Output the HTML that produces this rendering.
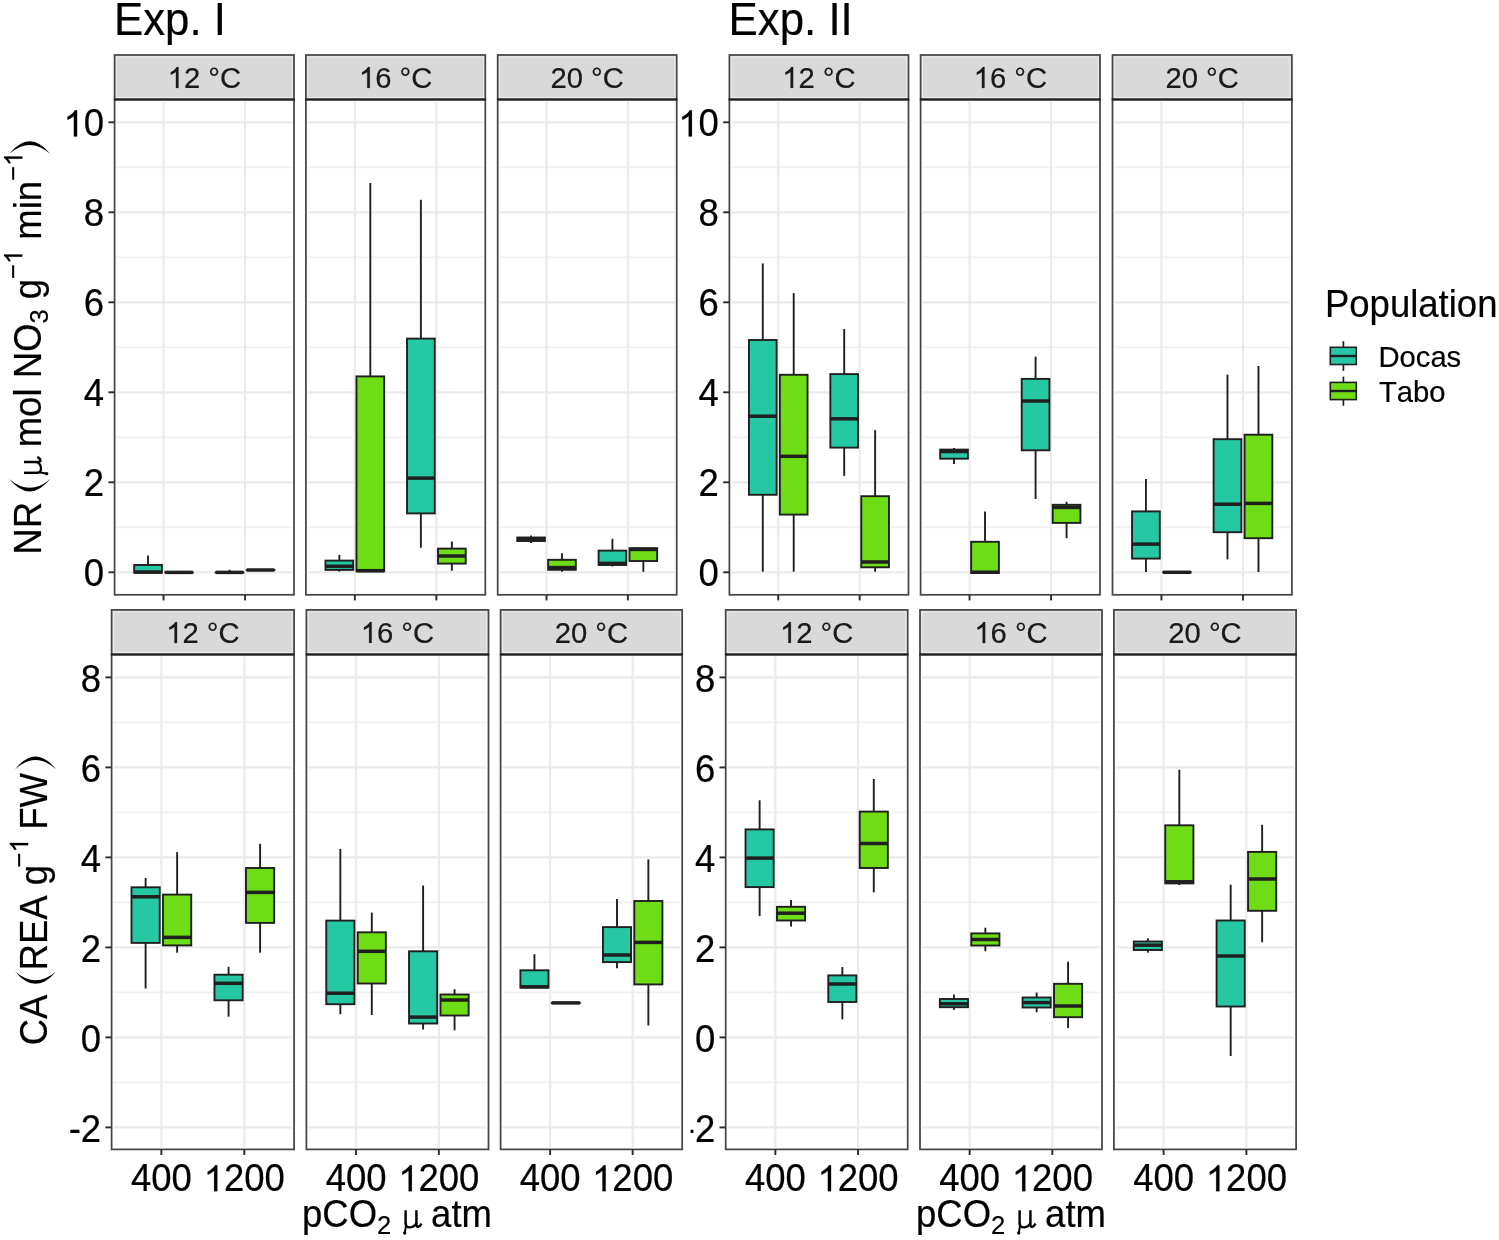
<!DOCTYPE html>
<html><head><meta charset="utf-8">
<style>
html,body{margin:0;padding:0;background:#fff;}
body{width:1499px;height:1240px;overflow:hidden;}
svg{display:block;will-change:transform;}
text{font-family:"Liberation Sans",sans-serif;font-kerning:none;stroke:currentColor;stroke-width:0.2px;}
.serif{font-family:"Liberation Serif",serif;}
</style></head>
<body>
<svg width="1499" height="1240" viewBox="0 0 1499 1240">
<rect width="1499" height="1240" fill="#fff"/>
<rect x="114.6" y="99.4" width="179.4" height="495.4" fill="#fff"/>
<line x1="116.6" x2="292" y1="527.3" y2="527.3" stroke="#F1F1F1" stroke-width="1.8"/>
<line x1="116.6" x2="292" y1="437.3" y2="437.3" stroke="#F1F1F1" stroke-width="1.8"/>
<line x1="116.6" x2="292" y1="347.3" y2="347.3" stroke="#F1F1F1" stroke-width="1.8"/>
<line x1="116.6" x2="292" y1="257.3" y2="257.3" stroke="#F1F1F1" stroke-width="1.8"/>
<line x1="116.6" x2="292" y1="167.3" y2="167.3" stroke="#F1F1F1" stroke-width="1.8"/>
<line x1="116.6" x2="292" y1="572.3" y2="572.3" stroke="#EBEBEB" stroke-width="2.2"/>
<line x1="116.6" x2="292" y1="482.3" y2="482.3" stroke="#EBEBEB" stroke-width="2.2"/>
<line x1="116.6" x2="292" y1="392.3" y2="392.3" stroke="#EBEBEB" stroke-width="2.2"/>
<line x1="116.6" x2="292" y1="302.3" y2="302.3" stroke="#EBEBEB" stroke-width="2.2"/>
<line x1="116.6" x2="292" y1="212.3" y2="212.3" stroke="#EBEBEB" stroke-width="2.2"/>
<line x1="116.6" x2="292" y1="122.3" y2="122.3" stroke="#EBEBEB" stroke-width="2.2"/>
<line x1="163.53" x2="163.53" y1="101.4" y2="592.8" stroke="#EBEBEB" stroke-width="2.2"/>
<line x1="245.07" x2="245.07" y1="101.4" y2="592.8" stroke="#EBEBEB" stroke-width="2.2"/>
<line x1="148.03" x2="148.03" y1="555.5" y2="565" stroke="#1f1f1f" stroke-width="1.9"/>
<rect x="134.17" y="565" width="27.73" height="7.8" fill="#26C8A3" stroke="#1f1f1f" stroke-width="1.9"/>
<line x1="134.17" x2="161.9" y1="572" y2="572" stroke="#1f1f1f" stroke-width="3.5"/>
<rect x="165.16" y="572.4" width="27.73" height="0.01" fill="#6EDD16" stroke="#1f1f1f" stroke-width="1.9"/>
<line x1="165.16" x2="192.88" y1="572.4" y2="572.4" stroke="#1f1f1f" stroke-width="3.5"/>
<line x1="229.58" x2="229.58" y1="569.8" y2="572.4" stroke="#1f1f1f" stroke-width="1.9"/>
<rect x="215.72" y="572.4" width="27.73" height="0.01" fill="#26C8A3" stroke="#1f1f1f" stroke-width="1.9"/>
<line x1="215.72" x2="243.44" y1="572.4" y2="572.4" stroke="#1f1f1f" stroke-width="3.5"/>
<rect x="246.7" y="570" width="27.73" height="0.01" fill="#6EDD16" stroke="#1f1f1f" stroke-width="1.9"/>
<line x1="246.7" x2="274.43" y1="570" y2="570" stroke="#1f1f1f" stroke-width="3.5"/>
<rect x="114.6" y="99.4" width="179.4" height="495.4" fill="none" stroke="#464646" stroke-width="1.75"/>
<rect x="114.6" y="55" width="179.4" height="44.4" fill="#D9D9D9" stroke="#464646" stroke-width="1.75"/>
<rect x="116.5" y="56.9" width="175.6" height="40.6" fill="none" stroke="#ECECEC" stroke-width="1"/>
<line x1="114" x2="294.6" y1="99.4" y2="99.4" stroke="#1e1e1e" stroke-width="2"/>
<text transform="translate(204.3,88) scale(1,1.04)" font-size="29.2" text-anchor="middle" fill="#1a1a1a"> 2 °C</text><path d="M763 0L583 0L583 1147C540 1106 483 1064 413 1023C343 982 280 951 221 930L221 1104C321 1151 409 1208 483 1274C557 1340 610 1404 641 1466L763 1466Z" fill="#1a1a1a" stroke="#1a1a1a" stroke-width="0.2" vector-effect="non-scaling-stroke" transform="translate(167.62,88) scale(0.01426,-0.01426)"/>
<line x1="108.4" x2="114.6" y1="572.3" y2="572.3" stroke="#2a2a2a" stroke-width="1.9"/>
<text transform="translate(104.1,586.4) scale(1,1.04)" font-size="36.5" text-anchor="end" fill="#000">0</text>
<line x1="108.4" x2="114.6" y1="482.3" y2="482.3" stroke="#2a2a2a" stroke-width="1.9"/>
<text transform="translate(104.1,496.4) scale(1,1.04)" font-size="36.5" text-anchor="end" fill="#000">2</text>
<line x1="108.4" x2="114.6" y1="392.3" y2="392.3" stroke="#2a2a2a" stroke-width="1.9"/>
<text transform="translate(104.1,406.4) scale(1,1.04)" font-size="36.5" text-anchor="end" fill="#000">4</text>
<line x1="108.4" x2="114.6" y1="302.3" y2="302.3" stroke="#2a2a2a" stroke-width="1.9"/>
<text transform="translate(104.1,316.4) scale(1,1.04)" font-size="36.5" text-anchor="end" fill="#000">6</text>
<line x1="108.4" x2="114.6" y1="212.3" y2="212.3" stroke="#2a2a2a" stroke-width="1.9"/>
<text transform="translate(104.1,226.4) scale(1,1.04)" font-size="36.5" text-anchor="end" fill="#000">8</text>
<line x1="108.4" x2="114.6" y1="122.3" y2="122.3" stroke="#2a2a2a" stroke-width="1.9"/>
<text transform="translate(104.1,136.4) scale(1,1.04)" font-size="36.5" text-anchor="end" fill="#000"> 0</text><path d="M763 0L583 0L583 1147C540 1106 483 1064 413 1023C343 982 280 951 221 930L221 1104C321 1151 409 1208 483 1274C557 1340 610 1404 641 1466L763 1466Z" fill="#000" stroke="#000" stroke-width="0.2" vector-effect="non-scaling-stroke" transform="translate(63.5,136.4) scale(0.01782,-0.01782)"/>
<line x1="163.53" x2="163.53" y1="594.8" y2="600.4" stroke="#2a2a2a" stroke-width="1.9"/>
<line x1="245.07" x2="245.07" y1="594.8" y2="600.4" stroke="#2a2a2a" stroke-width="1.9"/>
<rect x="305.9" y="99.4" width="179.4" height="495.4" fill="#fff"/>
<line x1="307.9" x2="483.3" y1="527.3" y2="527.3" stroke="#F1F1F1" stroke-width="1.8"/>
<line x1="307.9" x2="483.3" y1="437.3" y2="437.3" stroke="#F1F1F1" stroke-width="1.8"/>
<line x1="307.9" x2="483.3" y1="347.3" y2="347.3" stroke="#F1F1F1" stroke-width="1.8"/>
<line x1="307.9" x2="483.3" y1="257.3" y2="257.3" stroke="#F1F1F1" stroke-width="1.8"/>
<line x1="307.9" x2="483.3" y1="167.3" y2="167.3" stroke="#F1F1F1" stroke-width="1.8"/>
<line x1="307.9" x2="483.3" y1="572.3" y2="572.3" stroke="#EBEBEB" stroke-width="2.2"/>
<line x1="307.9" x2="483.3" y1="482.3" y2="482.3" stroke="#EBEBEB" stroke-width="2.2"/>
<line x1="307.9" x2="483.3" y1="392.3" y2="392.3" stroke="#EBEBEB" stroke-width="2.2"/>
<line x1="307.9" x2="483.3" y1="302.3" y2="302.3" stroke="#EBEBEB" stroke-width="2.2"/>
<line x1="307.9" x2="483.3" y1="212.3" y2="212.3" stroke="#EBEBEB" stroke-width="2.2"/>
<line x1="307.9" x2="483.3" y1="122.3" y2="122.3" stroke="#EBEBEB" stroke-width="2.2"/>
<line x1="354.83" x2="354.83" y1="101.4" y2="592.8" stroke="#EBEBEB" stroke-width="2.2"/>
<line x1="436.37" x2="436.37" y1="101.4" y2="592.8" stroke="#EBEBEB" stroke-width="2.2"/>
<line x1="339.33" x2="339.33" y1="554.8" y2="560.6" stroke="#1f1f1f" stroke-width="1.9"/>
<line x1="339.33" x2="339.33" y1="569.9" y2="571.6" stroke="#1f1f1f" stroke-width="1.9"/>
<rect x="325.47" y="560.6" width="27.73" height="9.3" fill="#26C8A3" stroke="#1f1f1f" stroke-width="1.9"/>
<line x1="325.47" x2="353.2" y1="566.3" y2="566.3" stroke="#1f1f1f" stroke-width="3.5"/>
<line x1="370.32" x2="370.32" y1="183" y2="376.4" stroke="#1f1f1f" stroke-width="1.9"/>
<rect x="356.46" y="376.4" width="27.73" height="194.9" fill="#6EDD16" stroke="#1f1f1f" stroke-width="1.9"/>
<line x1="356.46" x2="384.18" y1="570.7" y2="570.7" stroke="#1f1f1f" stroke-width="3.5"/>
<line x1="420.88" x2="420.88" y1="199.8" y2="338.6" stroke="#1f1f1f" stroke-width="1.9"/>
<line x1="420.88" x2="420.88" y1="513.4" y2="547.7" stroke="#1f1f1f" stroke-width="1.9"/>
<rect x="407.02" y="338.6" width="27.73" height="174.8" fill="#26C8A3" stroke="#1f1f1f" stroke-width="1.9"/>
<line x1="407.02" x2="434.74" y1="478.1" y2="478.1" stroke="#1f1f1f" stroke-width="3.5"/>
<line x1="451.87" x2="451.87" y1="541.5" y2="548.6" stroke="#1f1f1f" stroke-width="1.9"/>
<line x1="451.87" x2="451.87" y1="563.6" y2="570.7" stroke="#1f1f1f" stroke-width="1.9"/>
<rect x="438" y="548.6" width="27.73" height="15" fill="#6EDD16" stroke="#1f1f1f" stroke-width="1.9"/>
<line x1="438" x2="465.73" y1="556" y2="556" stroke="#1f1f1f" stroke-width="3.5"/>
<rect x="305.9" y="99.4" width="179.4" height="495.4" fill="none" stroke="#464646" stroke-width="1.75"/>
<rect x="305.9" y="55" width="179.4" height="44.4" fill="#D9D9D9" stroke="#464646" stroke-width="1.75"/>
<rect x="307.8" y="56.9" width="175.6" height="40.6" fill="none" stroke="#ECECEC" stroke-width="1"/>
<line x1="305.3" x2="485.9" y1="99.4" y2="99.4" stroke="#1e1e1e" stroke-width="2"/>
<text transform="translate(395.6,88) scale(1,1.04)" font-size="29.2" text-anchor="middle" fill="#1a1a1a"> 6 °C</text><path d="M763 0L583 0L583 1147C540 1106 483 1064 413 1023C343 982 280 951 221 930L221 1104C321 1151 409 1208 483 1274C557 1340 610 1404 641 1466L763 1466Z" fill="#1a1a1a" stroke="#1a1a1a" stroke-width="0.2" vector-effect="non-scaling-stroke" transform="translate(358.92,88) scale(0.01426,-0.01426)"/>
<line x1="354.83" x2="354.83" y1="594.8" y2="600.4" stroke="#2a2a2a" stroke-width="1.9"/>
<line x1="436.37" x2="436.37" y1="594.8" y2="600.4" stroke="#2a2a2a" stroke-width="1.9"/>
<rect x="497.7" y="99.4" width="179" height="495.4" fill="#fff"/>
<line x1="499.7" x2="674.7" y1="527.3" y2="527.3" stroke="#F1F1F1" stroke-width="1.8"/>
<line x1="499.7" x2="674.7" y1="437.3" y2="437.3" stroke="#F1F1F1" stroke-width="1.8"/>
<line x1="499.7" x2="674.7" y1="347.3" y2="347.3" stroke="#F1F1F1" stroke-width="1.8"/>
<line x1="499.7" x2="674.7" y1="257.3" y2="257.3" stroke="#F1F1F1" stroke-width="1.8"/>
<line x1="499.7" x2="674.7" y1="167.3" y2="167.3" stroke="#F1F1F1" stroke-width="1.8"/>
<line x1="499.7" x2="674.7" y1="572.3" y2="572.3" stroke="#EBEBEB" stroke-width="2.2"/>
<line x1="499.7" x2="674.7" y1="482.3" y2="482.3" stroke="#EBEBEB" stroke-width="2.2"/>
<line x1="499.7" x2="674.7" y1="392.3" y2="392.3" stroke="#EBEBEB" stroke-width="2.2"/>
<line x1="499.7" x2="674.7" y1="302.3" y2="302.3" stroke="#EBEBEB" stroke-width="2.2"/>
<line x1="499.7" x2="674.7" y1="212.3" y2="212.3" stroke="#EBEBEB" stroke-width="2.2"/>
<line x1="499.7" x2="674.7" y1="122.3" y2="122.3" stroke="#EBEBEB" stroke-width="2.2"/>
<line x1="546.52" x2="546.52" y1="101.4" y2="592.8" stroke="#EBEBEB" stroke-width="2.2"/>
<line x1="627.88" x2="627.88" y1="101.4" y2="592.8" stroke="#EBEBEB" stroke-width="2.2"/>
<line x1="531.06" x2="531.06" y1="535.5" y2="537.5" stroke="#1f1f1f" stroke-width="1.9"/>
<line x1="531.06" x2="531.06" y1="541" y2="543" stroke="#1f1f1f" stroke-width="1.9"/>
<rect x="517.23" y="537.5" width="27.66" height="3.5" fill="#26C8A3" stroke="#1f1f1f" stroke-width="1.9"/>
<line x1="517.23" x2="544.89" y1="539.2" y2="539.2" stroke="#1f1f1f" stroke-width="3.5"/>
<line x1="561.98" x2="561.98" y1="553.2" y2="559.8" stroke="#1f1f1f" stroke-width="1.9"/>
<line x1="561.98" x2="561.98" y1="569.8" y2="571.8" stroke="#1f1f1f" stroke-width="1.9"/>
<rect x="548.15" y="559.8" width="27.66" height="10" fill="#6EDD16" stroke="#1f1f1f" stroke-width="1.9"/>
<line x1="548.15" x2="575.81" y1="567.6" y2="567.6" stroke="#1f1f1f" stroke-width="3.5"/>
<line x1="612.42" x2="612.42" y1="538.8" y2="550.6" stroke="#1f1f1f" stroke-width="1.9"/>
<line x1="612.42" x2="612.42" y1="565" y2="566.4" stroke="#1f1f1f" stroke-width="1.9"/>
<rect x="598.59" y="550.6" width="27.66" height="14.4" fill="#26C8A3" stroke="#1f1f1f" stroke-width="1.9"/>
<line x1="598.59" x2="626.25" y1="563.4" y2="563.4" stroke="#1f1f1f" stroke-width="3.5"/>
<line x1="643.34" x2="643.34" y1="561" y2="571.8" stroke="#1f1f1f" stroke-width="1.9"/>
<rect x="629.51" y="548.2" width="27.66" height="12.8" fill="#6EDD16" stroke="#1f1f1f" stroke-width="1.9"/>
<line x1="629.51" x2="657.17" y1="549.4" y2="549.4" stroke="#1f1f1f" stroke-width="3.5"/>
<rect x="497.7" y="99.4" width="179" height="495.4" fill="none" stroke="#464646" stroke-width="1.75"/>
<rect x="497.7" y="55" width="179" height="44.4" fill="#D9D9D9" stroke="#464646" stroke-width="1.75"/>
<rect x="499.6" y="56.9" width="175.2" height="40.6" fill="none" stroke="#ECECEC" stroke-width="1"/>
<line x1="497.1" x2="677.3" y1="99.4" y2="99.4" stroke="#1e1e1e" stroke-width="2"/>
<text transform="translate(587.2,88) scale(1,1.04)" font-size="29.2" text-anchor="middle" fill="#1a1a1a">20 °C</text>
<line x1="546.52" x2="546.52" y1="594.8" y2="600.4" stroke="#2a2a2a" stroke-width="1.9"/>
<line x1="627.88" x2="627.88" y1="594.8" y2="600.4" stroke="#2a2a2a" stroke-width="1.9"/>
<rect x="729.4" y="99.4" width="179.1" height="495.4" fill="#fff"/>
<line x1="731.4" x2="906.5" y1="527.3" y2="527.3" stroke="#F1F1F1" stroke-width="1.8"/>
<line x1="731.4" x2="906.5" y1="437.3" y2="437.3" stroke="#F1F1F1" stroke-width="1.8"/>
<line x1="731.4" x2="906.5" y1="347.3" y2="347.3" stroke="#F1F1F1" stroke-width="1.8"/>
<line x1="731.4" x2="906.5" y1="257.3" y2="257.3" stroke="#F1F1F1" stroke-width="1.8"/>
<line x1="731.4" x2="906.5" y1="167.3" y2="167.3" stroke="#F1F1F1" stroke-width="1.8"/>
<line x1="731.4" x2="906.5" y1="572.3" y2="572.3" stroke="#EBEBEB" stroke-width="2.2"/>
<line x1="731.4" x2="906.5" y1="482.3" y2="482.3" stroke="#EBEBEB" stroke-width="2.2"/>
<line x1="731.4" x2="906.5" y1="392.3" y2="392.3" stroke="#EBEBEB" stroke-width="2.2"/>
<line x1="731.4" x2="906.5" y1="302.3" y2="302.3" stroke="#EBEBEB" stroke-width="2.2"/>
<line x1="731.4" x2="906.5" y1="212.3" y2="212.3" stroke="#EBEBEB" stroke-width="2.2"/>
<line x1="731.4" x2="906.5" y1="122.3" y2="122.3" stroke="#EBEBEB" stroke-width="2.2"/>
<line x1="778.25" x2="778.25" y1="101.4" y2="592.8" stroke="#EBEBEB" stroke-width="2.2"/>
<line x1="859.65" x2="859.65" y1="101.4" y2="592.8" stroke="#EBEBEB" stroke-width="2.2"/>
<line x1="762.78" x2="762.78" y1="263.5" y2="340" stroke="#1f1f1f" stroke-width="1.9"/>
<line x1="762.78" x2="762.78" y1="494.8" y2="571.7" stroke="#1f1f1f" stroke-width="1.9"/>
<rect x="748.94" y="340" width="27.68" height="154.8" fill="#26C8A3" stroke="#1f1f1f" stroke-width="1.9"/>
<line x1="748.94" x2="776.62" y1="416.2" y2="416.2" stroke="#1f1f1f" stroke-width="3.5"/>
<line x1="793.71" x2="793.71" y1="293.1" y2="374.8" stroke="#1f1f1f" stroke-width="1.9"/>
<line x1="793.71" x2="793.71" y1="514.6" y2="571.7" stroke="#1f1f1f" stroke-width="1.9"/>
<rect x="779.87" y="374.8" width="27.68" height="139.8" fill="#6EDD16" stroke="#1f1f1f" stroke-width="1.9"/>
<line x1="779.87" x2="807.55" y1="456.3" y2="456.3" stroke="#1f1f1f" stroke-width="3.5"/>
<line x1="844.19" x2="844.19" y1="329.1" y2="374.1" stroke="#1f1f1f" stroke-width="1.9"/>
<line x1="844.19" x2="844.19" y1="447.6" y2="475.9" stroke="#1f1f1f" stroke-width="1.9"/>
<rect x="830.35" y="374.1" width="27.68" height="73.5" fill="#26C8A3" stroke="#1f1f1f" stroke-width="1.9"/>
<line x1="830.35" x2="858.03" y1="418.8" y2="418.8" stroke="#1f1f1f" stroke-width="3.5"/>
<line x1="875.12" x2="875.12" y1="430.2" y2="496.2" stroke="#1f1f1f" stroke-width="1.9"/>
<line x1="875.12" x2="875.12" y1="567.3" y2="571.7" stroke="#1f1f1f" stroke-width="1.9"/>
<rect x="861.28" y="496.2" width="27.68" height="71.1" fill="#6EDD16" stroke="#1f1f1f" stroke-width="1.9"/>
<line x1="861.28" x2="888.96" y1="562" y2="562" stroke="#1f1f1f" stroke-width="3.5"/>
<rect x="729.4" y="99.4" width="179.1" height="495.4" fill="none" stroke="#464646" stroke-width="1.75"/>
<rect x="729.4" y="55" width="179.1" height="44.4" fill="#D9D9D9" stroke="#464646" stroke-width="1.75"/>
<rect x="731.3" y="56.9" width="175.3" height="40.6" fill="none" stroke="#ECECEC" stroke-width="1"/>
<line x1="728.8" x2="909.1" y1="99.4" y2="99.4" stroke="#1e1e1e" stroke-width="2"/>
<text transform="translate(818.95,88) scale(1,1.04)" font-size="29.2" text-anchor="middle" fill="#1a1a1a"> 2 °C</text><path d="M763 0L583 0L583 1147C540 1106 483 1064 413 1023C343 982 280 951 221 930L221 1104C321 1151 409 1208 483 1274C557 1340 610 1404 641 1466L763 1466Z" fill="#1a1a1a" stroke="#1a1a1a" stroke-width="0.2" vector-effect="non-scaling-stroke" transform="translate(782.27,88) scale(0.01426,-0.01426)"/>
<line x1="723.2" x2="729.4" y1="572.3" y2="572.3" stroke="#2a2a2a" stroke-width="1.9"/>
<text transform="translate(718.9,586.4) scale(1,1.04)" font-size="36.5" text-anchor="end" fill="#000">0</text>
<line x1="723.2" x2="729.4" y1="482.3" y2="482.3" stroke="#2a2a2a" stroke-width="1.9"/>
<text transform="translate(718.9,496.4) scale(1,1.04)" font-size="36.5" text-anchor="end" fill="#000">2</text>
<line x1="723.2" x2="729.4" y1="392.3" y2="392.3" stroke="#2a2a2a" stroke-width="1.9"/>
<text transform="translate(718.9,406.4) scale(1,1.04)" font-size="36.5" text-anchor="end" fill="#000">4</text>
<line x1="723.2" x2="729.4" y1="302.3" y2="302.3" stroke="#2a2a2a" stroke-width="1.9"/>
<text transform="translate(718.9,316.4) scale(1,1.04)" font-size="36.5" text-anchor="end" fill="#000">6</text>
<line x1="723.2" x2="729.4" y1="212.3" y2="212.3" stroke="#2a2a2a" stroke-width="1.9"/>
<text transform="translate(718.9,226.4) scale(1,1.04)" font-size="36.5" text-anchor="end" fill="#000">8</text>
<line x1="723.2" x2="729.4" y1="122.3" y2="122.3" stroke="#2a2a2a" stroke-width="1.9"/>
<text transform="translate(718.9,136.4) scale(1,1.04)" font-size="36.5" text-anchor="end" fill="#000"> 0</text><path d="M763 0L583 0L583 1147C540 1106 483 1064 413 1023C343 982 280 951 221 930L221 1104C321 1151 409 1208 483 1274C557 1340 610 1404 641 1466L763 1466Z" fill="#000" stroke="#000" stroke-width="0.2" vector-effect="non-scaling-stroke" transform="translate(678.3,136.4) scale(0.01782,-0.01782)"/>
<line x1="778.25" x2="778.25" y1="594.8" y2="600.4" stroke="#2a2a2a" stroke-width="1.9"/>
<line x1="859.65" x2="859.65" y1="594.8" y2="600.4" stroke="#2a2a2a" stroke-width="1.9"/>
<rect x="920.6" y="99.4" width="179.4" height="495.4" fill="#fff"/>
<line x1="922.6" x2="1098" y1="527.3" y2="527.3" stroke="#F1F1F1" stroke-width="1.8"/>
<line x1="922.6" x2="1098" y1="437.3" y2="437.3" stroke="#F1F1F1" stroke-width="1.8"/>
<line x1="922.6" x2="1098" y1="347.3" y2="347.3" stroke="#F1F1F1" stroke-width="1.8"/>
<line x1="922.6" x2="1098" y1="257.3" y2="257.3" stroke="#F1F1F1" stroke-width="1.8"/>
<line x1="922.6" x2="1098" y1="167.3" y2="167.3" stroke="#F1F1F1" stroke-width="1.8"/>
<line x1="922.6" x2="1098" y1="572.3" y2="572.3" stroke="#EBEBEB" stroke-width="2.2"/>
<line x1="922.6" x2="1098" y1="482.3" y2="482.3" stroke="#EBEBEB" stroke-width="2.2"/>
<line x1="922.6" x2="1098" y1="392.3" y2="392.3" stroke="#EBEBEB" stroke-width="2.2"/>
<line x1="922.6" x2="1098" y1="302.3" y2="302.3" stroke="#EBEBEB" stroke-width="2.2"/>
<line x1="922.6" x2="1098" y1="212.3" y2="212.3" stroke="#EBEBEB" stroke-width="2.2"/>
<line x1="922.6" x2="1098" y1="122.3" y2="122.3" stroke="#EBEBEB" stroke-width="2.2"/>
<line x1="969.53" x2="969.53" y1="101.4" y2="592.8" stroke="#EBEBEB" stroke-width="2.2"/>
<line x1="1051.07" x2="1051.07" y1="101.4" y2="592.8" stroke="#EBEBEB" stroke-width="2.2"/>
<line x1="954.03" x2="954.03" y1="448.1" y2="449.6" stroke="#1f1f1f" stroke-width="1.9"/>
<line x1="954.03" x2="954.03" y1="458.7" y2="464.1" stroke="#1f1f1f" stroke-width="1.9"/>
<rect x="940.17" y="449.6" width="27.73" height="9.1" fill="#26C8A3" stroke="#1f1f1f" stroke-width="1.9"/>
<line x1="940.17" x2="967.9" y1="451.5" y2="451.5" stroke="#1f1f1f" stroke-width="3.5"/>
<line x1="985.02" x2="985.02" y1="511.5" y2="541.8" stroke="#1f1f1f" stroke-width="1.9"/>
<rect x="971.16" y="541.8" width="27.73" height="31.2" fill="#6EDD16" stroke="#1f1f1f" stroke-width="1.9"/>
<line x1="971.16" x2="998.88" y1="572.2" y2="572.2" stroke="#1f1f1f" stroke-width="3.5"/>
<line x1="1035.58" x2="1035.58" y1="356.7" y2="378.9" stroke="#1f1f1f" stroke-width="1.9"/>
<line x1="1035.58" x2="1035.58" y1="450.3" y2="499" stroke="#1f1f1f" stroke-width="1.9"/>
<rect x="1021.72" y="378.9" width="27.73" height="71.4" fill="#26C8A3" stroke="#1f1f1f" stroke-width="1.9"/>
<line x1="1021.72" x2="1049.44" y1="401" y2="401" stroke="#1f1f1f" stroke-width="3.5"/>
<line x1="1066.57" x2="1066.57" y1="501.8" y2="504.8" stroke="#1f1f1f" stroke-width="1.9"/>
<line x1="1066.57" x2="1066.57" y1="522.9" y2="538.2" stroke="#1f1f1f" stroke-width="1.9"/>
<rect x="1052.7" y="504.8" width="27.73" height="18.1" fill="#6EDD16" stroke="#1f1f1f" stroke-width="1.9"/>
<line x1="1052.7" x2="1080.43" y1="507.4" y2="507.4" stroke="#1f1f1f" stroke-width="3.5"/>
<rect x="920.6" y="99.4" width="179.4" height="495.4" fill="none" stroke="#464646" stroke-width="1.75"/>
<rect x="920.6" y="55" width="179.4" height="44.4" fill="#D9D9D9" stroke="#464646" stroke-width="1.75"/>
<rect x="922.5" y="56.9" width="175.6" height="40.6" fill="none" stroke="#ECECEC" stroke-width="1"/>
<line x1="920" x2="1100.6" y1="99.4" y2="99.4" stroke="#1e1e1e" stroke-width="2"/>
<text transform="translate(1010.3,88) scale(1,1.04)" font-size="29.2" text-anchor="middle" fill="#1a1a1a"> 6 °C</text><path d="M763 0L583 0L583 1147C540 1106 483 1064 413 1023C343 982 280 951 221 930L221 1104C321 1151 409 1208 483 1274C557 1340 610 1404 641 1466L763 1466Z" fill="#1a1a1a" stroke="#1a1a1a" stroke-width="0.2" vector-effect="non-scaling-stroke" transform="translate(973.62,88) scale(0.01426,-0.01426)"/>
<line x1="969.53" x2="969.53" y1="594.8" y2="600.4" stroke="#2a2a2a" stroke-width="1.9"/>
<line x1="1051.07" x2="1051.07" y1="594.8" y2="600.4" stroke="#2a2a2a" stroke-width="1.9"/>
<rect x="1112.5" y="99.4" width="179.4" height="495.4" fill="#fff"/>
<line x1="1114.5" x2="1289.9" y1="527.3" y2="527.3" stroke="#F1F1F1" stroke-width="1.8"/>
<line x1="1114.5" x2="1289.9" y1="437.3" y2="437.3" stroke="#F1F1F1" stroke-width="1.8"/>
<line x1="1114.5" x2="1289.9" y1="347.3" y2="347.3" stroke="#F1F1F1" stroke-width="1.8"/>
<line x1="1114.5" x2="1289.9" y1="257.3" y2="257.3" stroke="#F1F1F1" stroke-width="1.8"/>
<line x1="1114.5" x2="1289.9" y1="167.3" y2="167.3" stroke="#F1F1F1" stroke-width="1.8"/>
<line x1="1114.5" x2="1289.9" y1="572.3" y2="572.3" stroke="#EBEBEB" stroke-width="2.2"/>
<line x1="1114.5" x2="1289.9" y1="482.3" y2="482.3" stroke="#EBEBEB" stroke-width="2.2"/>
<line x1="1114.5" x2="1289.9" y1="392.3" y2="392.3" stroke="#EBEBEB" stroke-width="2.2"/>
<line x1="1114.5" x2="1289.9" y1="302.3" y2="302.3" stroke="#EBEBEB" stroke-width="2.2"/>
<line x1="1114.5" x2="1289.9" y1="212.3" y2="212.3" stroke="#EBEBEB" stroke-width="2.2"/>
<line x1="1114.5" x2="1289.9" y1="122.3" y2="122.3" stroke="#EBEBEB" stroke-width="2.2"/>
<line x1="1161.43" x2="1161.43" y1="101.4" y2="592.8" stroke="#EBEBEB" stroke-width="2.2"/>
<line x1="1242.97" x2="1242.97" y1="101.4" y2="592.8" stroke="#EBEBEB" stroke-width="2.2"/>
<line x1="1145.93" x2="1145.93" y1="479" y2="511.4" stroke="#1f1f1f" stroke-width="1.9"/>
<line x1="1145.93" x2="1145.93" y1="558.6" y2="572" stroke="#1f1f1f" stroke-width="1.9"/>
<rect x="1132.07" y="511.4" width="27.73" height="47.2" fill="#26C8A3" stroke="#1f1f1f" stroke-width="1.9"/>
<line x1="1132.07" x2="1159.8" y1="544.1" y2="544.1" stroke="#1f1f1f" stroke-width="3.5"/>
<rect x="1163.06" y="572.3" width="27.73" height="0.01" fill="#6EDD16" stroke="#1f1f1f" stroke-width="1.9"/>
<line x1="1163.06" x2="1190.78" y1="572.3" y2="572.3" stroke="#1f1f1f" stroke-width="3.5"/>
<line x1="1227.48" x2="1227.48" y1="374.6" y2="439.2" stroke="#1f1f1f" stroke-width="1.9"/>
<line x1="1227.48" x2="1227.48" y1="532.2" y2="559.4" stroke="#1f1f1f" stroke-width="1.9"/>
<rect x="1213.62" y="439.2" width="27.73" height="93" fill="#26C8A3" stroke="#1f1f1f" stroke-width="1.9"/>
<line x1="1213.62" x2="1241.34" y1="504.2" y2="504.2" stroke="#1f1f1f" stroke-width="3.5"/>
<line x1="1258.47" x2="1258.47" y1="366" y2="434.7" stroke="#1f1f1f" stroke-width="1.9"/>
<line x1="1258.47" x2="1258.47" y1="538.2" y2="572" stroke="#1f1f1f" stroke-width="1.9"/>
<rect x="1244.6" y="434.7" width="27.73" height="103.5" fill="#6EDD16" stroke="#1f1f1f" stroke-width="1.9"/>
<line x1="1244.6" x2="1272.33" y1="503.4" y2="503.4" stroke="#1f1f1f" stroke-width="3.5"/>
<rect x="1112.5" y="99.4" width="179.4" height="495.4" fill="none" stroke="#464646" stroke-width="1.75"/>
<rect x="1112.5" y="55" width="179.4" height="44.4" fill="#D9D9D9" stroke="#464646" stroke-width="1.75"/>
<rect x="1114.4" y="56.9" width="175.6" height="40.6" fill="none" stroke="#ECECEC" stroke-width="1"/>
<line x1="1111.9" x2="1292.5" y1="99.4" y2="99.4" stroke="#1e1e1e" stroke-width="2"/>
<text transform="translate(1202.2,88) scale(1,1.04)" font-size="29.2" text-anchor="middle" fill="#1a1a1a">20 °C</text>
<line x1="1161.43" x2="1161.43" y1="594.8" y2="600.4" stroke="#2a2a2a" stroke-width="1.9"/>
<line x1="1242.97" x2="1242.97" y1="594.8" y2="600.4" stroke="#2a2a2a" stroke-width="1.9"/>
<rect x="111.6" y="654.4" width="182.5" height="495" fill="#fff"/>
<line x1="113.6" x2="292.1" y1="1082.4" y2="1082.4" stroke="#F1F1F1" stroke-width="1.8"/>
<line x1="113.6" x2="292.1" y1="992.4" y2="992.4" stroke="#F1F1F1" stroke-width="1.8"/>
<line x1="113.6" x2="292.1" y1="902.4" y2="902.4" stroke="#F1F1F1" stroke-width="1.8"/>
<line x1="113.6" x2="292.1" y1="812.4" y2="812.4" stroke="#F1F1F1" stroke-width="1.8"/>
<line x1="113.6" x2="292.1" y1="722.4" y2="722.4" stroke="#F1F1F1" stroke-width="1.8"/>
<line x1="113.6" x2="292.1" y1="1127.4" y2="1127.4" stroke="#EBEBEB" stroke-width="2.2"/>
<line x1="113.6" x2="292.1" y1="1037.4" y2="1037.4" stroke="#EBEBEB" stroke-width="2.2"/>
<line x1="113.6" x2="292.1" y1="947.4" y2="947.4" stroke="#EBEBEB" stroke-width="2.2"/>
<line x1="113.6" x2="292.1" y1="857.4" y2="857.4" stroke="#EBEBEB" stroke-width="2.2"/>
<line x1="113.6" x2="292.1" y1="767.4" y2="767.4" stroke="#EBEBEB" stroke-width="2.2"/>
<line x1="113.6" x2="292.1" y1="677.4" y2="677.4" stroke="#EBEBEB" stroke-width="2.2"/>
<line x1="161.37" x2="161.37" y1="656.4" y2="1147.4" stroke="#EBEBEB" stroke-width="2.2"/>
<line x1="244.33" x2="244.33" y1="656.4" y2="1147.4" stroke="#EBEBEB" stroke-width="2.2"/>
<line x1="145.61" x2="145.61" y1="877.9" y2="887.3" stroke="#1f1f1f" stroke-width="1.9"/>
<line x1="145.61" x2="145.61" y1="942.9" y2="988.5" stroke="#1f1f1f" stroke-width="1.9"/>
<rect x="131.51" y="887.3" width="28.2" height="55.6" fill="#26C8A3" stroke="#1f1f1f" stroke-width="1.9"/>
<line x1="131.51" x2="159.71" y1="896.8" y2="896.8" stroke="#1f1f1f" stroke-width="3.5"/>
<line x1="177.13" x2="177.13" y1="852.1" y2="894.6" stroke="#1f1f1f" stroke-width="1.9"/>
<line x1="177.13" x2="177.13" y1="945.4" y2="952.7" stroke="#1f1f1f" stroke-width="1.9"/>
<rect x="163.03" y="894.6" width="28.2" height="50.8" fill="#6EDD16" stroke="#1f1f1f" stroke-width="1.9"/>
<line x1="163.03" x2="191.24" y1="937.4" y2="937.4" stroke="#1f1f1f" stroke-width="3.5"/>
<line x1="228.57" x2="228.57" y1="966.8" y2="974.7" stroke="#1f1f1f" stroke-width="1.9"/>
<line x1="228.57" x2="228.57" y1="1000.3" y2="1016.7" stroke="#1f1f1f" stroke-width="1.9"/>
<rect x="214.46" y="974.7" width="28.2" height="25.6" fill="#26C8A3" stroke="#1f1f1f" stroke-width="1.9"/>
<line x1="214.46" x2="242.67" y1="983.3" y2="983.3" stroke="#1f1f1f" stroke-width="3.5"/>
<line x1="260.09" x2="260.09" y1="843.8" y2="868" stroke="#1f1f1f" stroke-width="1.9"/>
<line x1="260.09" x2="260.09" y1="922.9" y2="952.7" stroke="#1f1f1f" stroke-width="1.9"/>
<rect x="245.99" y="868" width="28.2" height="54.9" fill="#6EDD16" stroke="#1f1f1f" stroke-width="1.9"/>
<line x1="245.99" x2="274.19" y1="892.4" y2="892.4" stroke="#1f1f1f" stroke-width="3.5"/>
<rect x="111.6" y="654.4" width="182.5" height="495" fill="none" stroke="#464646" stroke-width="1.75"/>
<rect x="111.6" y="609.9" width="182.5" height="44.5" fill="#D9D9D9" stroke="#464646" stroke-width="1.75"/>
<rect x="113.5" y="611.8" width="178.7" height="40.7" fill="none" stroke="#ECECEC" stroke-width="1"/>
<line x1="111" x2="294.7" y1="654.4" y2="654.4" stroke="#1e1e1e" stroke-width="2"/>
<text transform="translate(202.85,643) scale(1,1.04)" font-size="29.2" text-anchor="middle" fill="#1a1a1a"> 2 °C</text><path d="M763 0L583 0L583 1147C540 1106 483 1064 413 1023C343 982 280 951 221 930L221 1104C321 1151 409 1208 483 1274C557 1340 610 1404 641 1466L763 1466Z" fill="#1a1a1a" stroke="#1a1a1a" stroke-width="0.2" vector-effect="non-scaling-stroke" transform="translate(166.17,643) scale(0.01426,-0.01426)"/>
<line x1="105.4" x2="111.6" y1="1127.4" y2="1127.4" stroke="#2a2a2a" stroke-width="1.9"/>
<text transform="translate(101.1,1141.5) scale(1,1.04)" font-size="36.5" text-anchor="end" fill="#000">-2</text>
<line x1="105.4" x2="111.6" y1="1037.4" y2="1037.4" stroke="#2a2a2a" stroke-width="1.9"/>
<text transform="translate(101.1,1051.5) scale(1,1.04)" font-size="36.5" text-anchor="end" fill="#000">0</text>
<line x1="105.4" x2="111.6" y1="947.4" y2="947.4" stroke="#2a2a2a" stroke-width="1.9"/>
<text transform="translate(101.1,961.5) scale(1,1.04)" font-size="36.5" text-anchor="end" fill="#000">2</text>
<line x1="105.4" x2="111.6" y1="857.4" y2="857.4" stroke="#2a2a2a" stroke-width="1.9"/>
<text transform="translate(101.1,871.5) scale(1,1.04)" font-size="36.5" text-anchor="end" fill="#000">4</text>
<line x1="105.4" x2="111.6" y1="767.4" y2="767.4" stroke="#2a2a2a" stroke-width="1.9"/>
<text transform="translate(101.1,781.5) scale(1,1.04)" font-size="36.5" text-anchor="end" fill="#000">6</text>
<line x1="105.4" x2="111.6" y1="677.4" y2="677.4" stroke="#2a2a2a" stroke-width="1.9"/>
<text transform="translate(101.1,691.5) scale(1,1.04)" font-size="36.5" text-anchor="end" fill="#000">8</text>
<line x1="161.37" x2="161.37" y1="1149.4" y2="1155" stroke="#2a2a2a" stroke-width="1.9"/>
<line x1="244.33" x2="244.33" y1="1149.4" y2="1155" stroke="#2a2a2a" stroke-width="1.9"/>
<text transform="translate(161.37,1191.3) scale(1,1.04)" font-size="36.5" text-anchor="middle" fill="#000">400</text>
<text transform="translate(244.33,1191.3) scale(1,1.04)" font-size="36.5" text-anchor="middle" fill="#000"> 200</text><path d="M763 0L583 0L583 1147C540 1106 483 1064 413 1023C343 982 280 951 221 930L221 1104C321 1151 409 1208 483 1274C557 1340 610 1404 641 1466L763 1466Z" fill="#000" stroke="#000" stroke-width="0.2" vector-effect="non-scaling-stroke" transform="translate(203.73,1191.3) scale(0.01782,-0.01782)"/>
<rect x="306.4" y="654.4" width="182.1" height="495" fill="#fff"/>
<line x1="308.4" x2="486.5" y1="1082.4" y2="1082.4" stroke="#F1F1F1" stroke-width="1.8"/>
<line x1="308.4" x2="486.5" y1="992.4" y2="992.4" stroke="#F1F1F1" stroke-width="1.8"/>
<line x1="308.4" x2="486.5" y1="902.4" y2="902.4" stroke="#F1F1F1" stroke-width="1.8"/>
<line x1="308.4" x2="486.5" y1="812.4" y2="812.4" stroke="#F1F1F1" stroke-width="1.8"/>
<line x1="308.4" x2="486.5" y1="722.4" y2="722.4" stroke="#F1F1F1" stroke-width="1.8"/>
<line x1="308.4" x2="486.5" y1="1127.4" y2="1127.4" stroke="#EBEBEB" stroke-width="2.2"/>
<line x1="308.4" x2="486.5" y1="1037.4" y2="1037.4" stroke="#EBEBEB" stroke-width="2.2"/>
<line x1="308.4" x2="486.5" y1="947.4" y2="947.4" stroke="#EBEBEB" stroke-width="2.2"/>
<line x1="308.4" x2="486.5" y1="857.4" y2="857.4" stroke="#EBEBEB" stroke-width="2.2"/>
<line x1="308.4" x2="486.5" y1="767.4" y2="767.4" stroke="#EBEBEB" stroke-width="2.2"/>
<line x1="308.4" x2="486.5" y1="677.4" y2="677.4" stroke="#EBEBEB" stroke-width="2.2"/>
<line x1="356.06" x2="356.06" y1="656.4" y2="1147.4" stroke="#EBEBEB" stroke-width="2.2"/>
<line x1="438.84" x2="438.84" y1="656.4" y2="1147.4" stroke="#EBEBEB" stroke-width="2.2"/>
<line x1="340.34" x2="340.34" y1="848.9" y2="920.6" stroke="#1f1f1f" stroke-width="1.9"/>
<line x1="340.34" x2="340.34" y1="1004.2" y2="1014.2" stroke="#1f1f1f" stroke-width="1.9"/>
<rect x="326.27" y="920.6" width="28.14" height="83.6" fill="#26C8A3" stroke="#1f1f1f" stroke-width="1.9"/>
<line x1="326.27" x2="354.41" y1="993.2" y2="993.2" stroke="#1f1f1f" stroke-width="3.5"/>
<line x1="371.79" x2="371.79" y1="912.6" y2="932.3" stroke="#1f1f1f" stroke-width="1.9"/>
<line x1="371.79" x2="371.79" y1="983.5" y2="1015" stroke="#1f1f1f" stroke-width="1.9"/>
<rect x="357.72" y="932.3" width="28.14" height="51.2" fill="#6EDD16" stroke="#1f1f1f" stroke-width="1.9"/>
<line x1="357.72" x2="385.86" y1="951.3" y2="951.3" stroke="#1f1f1f" stroke-width="3.5"/>
<line x1="423.11" x2="423.11" y1="885.5" y2="951.3" stroke="#1f1f1f" stroke-width="1.9"/>
<line x1="423.11" x2="423.11" y1="1023.5" y2="1029.5" stroke="#1f1f1f" stroke-width="1.9"/>
<rect x="409.04" y="951.3" width="28.14" height="72.2" fill="#26C8A3" stroke="#1f1f1f" stroke-width="1.9"/>
<line x1="409.04" x2="437.18" y1="1017.1" y2="1017.1" stroke="#1f1f1f" stroke-width="3.5"/>
<line x1="454.56" x2="454.56" y1="989.2" y2="994.5" stroke="#1f1f1f" stroke-width="1.9"/>
<line x1="454.56" x2="454.56" y1="1015.5" y2="1030.3" stroke="#1f1f1f" stroke-width="1.9"/>
<rect x="440.49" y="994.5" width="28.14" height="21" fill="#6EDD16" stroke="#1f1f1f" stroke-width="1.9"/>
<line x1="440.49" x2="468.63" y1="1000" y2="1000" stroke="#1f1f1f" stroke-width="3.5"/>
<rect x="306.4" y="654.4" width="182.1" height="495" fill="none" stroke="#464646" stroke-width="1.75"/>
<rect x="306.4" y="609.9" width="182.1" height="44.5" fill="#D9D9D9" stroke="#464646" stroke-width="1.75"/>
<rect x="308.3" y="611.8" width="178.3" height="40.7" fill="none" stroke="#ECECEC" stroke-width="1"/>
<line x1="305.8" x2="489.1" y1="654.4" y2="654.4" stroke="#1e1e1e" stroke-width="2"/>
<text transform="translate(397.45,643) scale(1,1.04)" font-size="29.2" text-anchor="middle" fill="#1a1a1a"> 6 °C</text><path d="M763 0L583 0L583 1147C540 1106 483 1064 413 1023C343 982 280 951 221 930L221 1104C321 1151 409 1208 483 1274C557 1340 610 1404 641 1466L763 1466Z" fill="#1a1a1a" stroke="#1a1a1a" stroke-width="0.2" vector-effect="non-scaling-stroke" transform="translate(360.77,643) scale(0.01426,-0.01426)"/>
<line x1="356.06" x2="356.06" y1="1149.4" y2="1155" stroke="#2a2a2a" stroke-width="1.9"/>
<line x1="438.84" x2="438.84" y1="1149.4" y2="1155" stroke="#2a2a2a" stroke-width="1.9"/>
<text transform="translate(356.06,1191.3) scale(1,1.04)" font-size="36.5" text-anchor="middle" fill="#000">400</text>
<text transform="translate(438.84,1191.3) scale(1,1.04)" font-size="36.5" text-anchor="middle" fill="#000"> 200</text><path d="M763 0L583 0L583 1147C540 1106 483 1064 413 1023C343 982 280 951 221 930L221 1104C321 1151 409 1208 483 1274C557 1340 610 1404 641 1466L763 1466Z" fill="#000" stroke="#000" stroke-width="0.2" vector-effect="non-scaling-stroke" transform="translate(398.24,1191.3) scale(0.01782,-0.01782)"/>
<rect x="500.6" y="654.4" width="181.6" height="495" fill="#fff"/>
<line x1="502.6" x2="680.2" y1="1082.4" y2="1082.4" stroke="#F1F1F1" stroke-width="1.8"/>
<line x1="502.6" x2="680.2" y1="992.4" y2="992.4" stroke="#F1F1F1" stroke-width="1.8"/>
<line x1="502.6" x2="680.2" y1="902.4" y2="902.4" stroke="#F1F1F1" stroke-width="1.8"/>
<line x1="502.6" x2="680.2" y1="812.4" y2="812.4" stroke="#F1F1F1" stroke-width="1.8"/>
<line x1="502.6" x2="680.2" y1="722.4" y2="722.4" stroke="#F1F1F1" stroke-width="1.8"/>
<line x1="502.6" x2="680.2" y1="1127.4" y2="1127.4" stroke="#EBEBEB" stroke-width="2.2"/>
<line x1="502.6" x2="680.2" y1="1037.4" y2="1037.4" stroke="#EBEBEB" stroke-width="2.2"/>
<line x1="502.6" x2="680.2" y1="947.4" y2="947.4" stroke="#EBEBEB" stroke-width="2.2"/>
<line x1="502.6" x2="680.2" y1="857.4" y2="857.4" stroke="#EBEBEB" stroke-width="2.2"/>
<line x1="502.6" x2="680.2" y1="767.4" y2="767.4" stroke="#EBEBEB" stroke-width="2.2"/>
<line x1="502.6" x2="680.2" y1="677.4" y2="677.4" stroke="#EBEBEB" stroke-width="2.2"/>
<line x1="550.13" x2="550.13" y1="656.4" y2="1147.4" stroke="#EBEBEB" stroke-width="2.2"/>
<line x1="632.67" x2="632.67" y1="656.4" y2="1147.4" stroke="#EBEBEB" stroke-width="2.2"/>
<line x1="534.44" x2="534.44" y1="954.2" y2="970.3" stroke="#1f1f1f" stroke-width="1.9"/>
<rect x="520.41" y="970.3" width="28.07" height="17.3" fill="#26C8A3" stroke="#1f1f1f" stroke-width="1.9"/>
<line x1="520.41" x2="548.48" y1="986.8" y2="986.8" stroke="#1f1f1f" stroke-width="3.5"/>
<rect x="551.78" y="1002.9" width="28.07" height="0.01" fill="#6EDD16" stroke="#1f1f1f" stroke-width="1.9"/>
<line x1="551.78" x2="579.84" y1="1002.9" y2="1002.9" stroke="#1f1f1f" stroke-width="3.5"/>
<line x1="616.99" x2="616.99" y1="898.9" y2="927.1" stroke="#1f1f1f" stroke-width="1.9"/>
<line x1="616.99" x2="616.99" y1="962.1" y2="968.2" stroke="#1f1f1f" stroke-width="1.9"/>
<rect x="602.96" y="927.1" width="28.07" height="35" fill="#26C8A3" stroke="#1f1f1f" stroke-width="1.9"/>
<line x1="602.96" x2="631.02" y1="955" y2="955" stroke="#1f1f1f" stroke-width="3.5"/>
<line x1="648.36" x2="648.36" y1="859.4" y2="901" stroke="#1f1f1f" stroke-width="1.9"/>
<line x1="648.36" x2="648.36" y1="984.4" y2="1025.5" stroke="#1f1f1f" stroke-width="1.9"/>
<rect x="634.32" y="901" width="28.07" height="83.4" fill="#6EDD16" stroke="#1f1f1f" stroke-width="1.9"/>
<line x1="634.32" x2="662.39" y1="942.4" y2="942.4" stroke="#1f1f1f" stroke-width="3.5"/>
<rect x="500.6" y="654.4" width="181.6" height="495" fill="none" stroke="#464646" stroke-width="1.75"/>
<rect x="500.6" y="609.9" width="181.6" height="44.5" fill="#D9D9D9" stroke="#464646" stroke-width="1.75"/>
<rect x="502.5" y="611.8" width="177.8" height="40.7" fill="none" stroke="#ECECEC" stroke-width="1"/>
<line x1="500" x2="682.8" y1="654.4" y2="654.4" stroke="#1e1e1e" stroke-width="2"/>
<text transform="translate(591.4,643) scale(1,1.04)" font-size="29.2" text-anchor="middle" fill="#1a1a1a">20 °C</text>
<line x1="550.13" x2="550.13" y1="1149.4" y2="1155" stroke="#2a2a2a" stroke-width="1.9"/>
<line x1="632.67" x2="632.67" y1="1149.4" y2="1155" stroke="#2a2a2a" stroke-width="1.9"/>
<text transform="translate(550.13,1191.3) scale(1,1.04)" font-size="36.5" text-anchor="middle" fill="#000">400</text>
<text transform="translate(632.67,1191.3) scale(1,1.04)" font-size="36.5" text-anchor="middle" fill="#000"> 200</text><path d="M763 0L583 0L583 1147C540 1106 483 1064 413 1023C343 982 280 951 221 930L221 1104C321 1151 409 1208 483 1274C557 1340 610 1404 641 1466L763 1466Z" fill="#000" stroke="#000" stroke-width="0.2" vector-effect="non-scaling-stroke" transform="translate(592.07,1191.3) scale(0.01782,-0.01782)"/>
<rect x="725.7" y="654.4" width="182" height="495" fill="#fff"/>
<line x1="727.7" x2="905.7" y1="1082.4" y2="1082.4" stroke="#F1F1F1" stroke-width="1.8"/>
<line x1="727.7" x2="905.7" y1="992.4" y2="992.4" stroke="#F1F1F1" stroke-width="1.8"/>
<line x1="727.7" x2="905.7" y1="902.4" y2="902.4" stroke="#F1F1F1" stroke-width="1.8"/>
<line x1="727.7" x2="905.7" y1="812.4" y2="812.4" stroke="#F1F1F1" stroke-width="1.8"/>
<line x1="727.7" x2="905.7" y1="722.4" y2="722.4" stroke="#F1F1F1" stroke-width="1.8"/>
<line x1="727.7" x2="905.7" y1="1127.4" y2="1127.4" stroke="#EBEBEB" stroke-width="2.2"/>
<line x1="727.7" x2="905.7" y1="1037.4" y2="1037.4" stroke="#EBEBEB" stroke-width="2.2"/>
<line x1="727.7" x2="905.7" y1="947.4" y2="947.4" stroke="#EBEBEB" stroke-width="2.2"/>
<line x1="727.7" x2="905.7" y1="857.4" y2="857.4" stroke="#EBEBEB" stroke-width="2.2"/>
<line x1="727.7" x2="905.7" y1="767.4" y2="767.4" stroke="#EBEBEB" stroke-width="2.2"/>
<line x1="727.7" x2="905.7" y1="677.4" y2="677.4" stroke="#EBEBEB" stroke-width="2.2"/>
<line x1="775.34" x2="775.34" y1="656.4" y2="1147.4" stroke="#EBEBEB" stroke-width="2.2"/>
<line x1="858.06" x2="858.06" y1="656.4" y2="1147.4" stroke="#EBEBEB" stroke-width="2.2"/>
<line x1="759.62" x2="759.62" y1="800.3" y2="829.4" stroke="#1f1f1f" stroke-width="1.9"/>
<line x1="759.62" x2="759.62" y1="887.1" y2="916.1" stroke="#1f1f1f" stroke-width="1.9"/>
<rect x="745.55" y="829.4" width="28.13" height="57.7" fill="#26C8A3" stroke="#1f1f1f" stroke-width="1.9"/>
<line x1="745.55" x2="773.68" y1="858.1" y2="858.1" stroke="#1f1f1f" stroke-width="3.5"/>
<line x1="791.05" x2="791.05" y1="900" y2="906.8" stroke="#1f1f1f" stroke-width="1.9"/>
<line x1="791.05" x2="791.05" y1="920.5" y2="926.5" stroke="#1f1f1f" stroke-width="1.9"/>
<rect x="776.99" y="906.8" width="28.13" height="13.7" fill="#6EDD16" stroke="#1f1f1f" stroke-width="1.9"/>
<line x1="776.99" x2="805.12" y1="913.2" y2="913.2" stroke="#1f1f1f" stroke-width="3.5"/>
<line x1="842.35" x2="842.35" y1="967.1" y2="975.4" stroke="#1f1f1f" stroke-width="1.9"/>
<line x1="842.35" x2="842.35" y1="1002" y2="1019.4" stroke="#1f1f1f" stroke-width="1.9"/>
<rect x="828.28" y="975.4" width="28.13" height="26.6" fill="#26C8A3" stroke="#1f1f1f" stroke-width="1.9"/>
<line x1="828.28" x2="856.41" y1="984" y2="984" stroke="#1f1f1f" stroke-width="3.5"/>
<line x1="873.78" x2="873.78" y1="779" y2="811.6" stroke="#1f1f1f" stroke-width="1.9"/>
<line x1="873.78" x2="873.78" y1="868" y2="892.3" stroke="#1f1f1f" stroke-width="1.9"/>
<rect x="859.72" y="811.6" width="28.13" height="56.4" fill="#6EDD16" stroke="#1f1f1f" stroke-width="1.9"/>
<line x1="859.72" x2="887.85" y1="843.5" y2="843.5" stroke="#1f1f1f" stroke-width="3.5"/>
<rect x="725.7" y="654.4" width="182" height="495" fill="none" stroke="#464646" stroke-width="1.75"/>
<rect x="725.7" y="609.9" width="182" height="44.5" fill="#D9D9D9" stroke="#464646" stroke-width="1.75"/>
<rect x="727.6" y="611.8" width="178.2" height="40.7" fill="none" stroke="#ECECEC" stroke-width="1"/>
<line x1="725.1" x2="908.3" y1="654.4" y2="654.4" stroke="#1e1e1e" stroke-width="2"/>
<text transform="translate(816.7,643) scale(1,1.04)" font-size="29.2" text-anchor="middle" fill="#1a1a1a"> 2 °C</text><path d="M763 0L583 0L583 1147C540 1106 483 1064 413 1023C343 982 280 951 221 930L221 1104C321 1151 409 1208 483 1274C557 1340 610 1404 641 1466L763 1466Z" fill="#1a1a1a" stroke="#1a1a1a" stroke-width="0.2" vector-effect="non-scaling-stroke" transform="translate(780.02,643) scale(0.01426,-0.01426)"/>
<line x1="719.5" x2="725.7" y1="1127.4" y2="1127.4" stroke="#2a2a2a" stroke-width="1.9"/>
<text transform="translate(715.2,1141.5) scale(1,1.04)" font-size="36.5" text-anchor="end" fill="#000">-2</text>
<line x1="719.5" x2="725.7" y1="1037.4" y2="1037.4" stroke="#2a2a2a" stroke-width="1.9"/>
<text transform="translate(715.2,1051.5) scale(1,1.04)" font-size="36.5" text-anchor="end" fill="#000">0</text>
<line x1="719.5" x2="725.7" y1="947.4" y2="947.4" stroke="#2a2a2a" stroke-width="1.9"/>
<text transform="translate(715.2,961.5) scale(1,1.04)" font-size="36.5" text-anchor="end" fill="#000">2</text>
<line x1="719.5" x2="725.7" y1="857.4" y2="857.4" stroke="#2a2a2a" stroke-width="1.9"/>
<text transform="translate(715.2,871.5) scale(1,1.04)" font-size="36.5" text-anchor="end" fill="#000">4</text>
<line x1="719.5" x2="725.7" y1="767.4" y2="767.4" stroke="#2a2a2a" stroke-width="1.9"/>
<text transform="translate(715.2,781.5) scale(1,1.04)" font-size="36.5" text-anchor="end" fill="#000">6</text>
<line x1="719.5" x2="725.7" y1="677.4" y2="677.4" stroke="#2a2a2a" stroke-width="1.9"/>
<text transform="translate(715.2,691.5) scale(1,1.04)" font-size="36.5" text-anchor="end" fill="#000">8</text>
<line x1="775.34" x2="775.34" y1="1149.4" y2="1155" stroke="#2a2a2a" stroke-width="1.9"/>
<line x1="858.06" x2="858.06" y1="1149.4" y2="1155" stroke="#2a2a2a" stroke-width="1.9"/>
<text transform="translate(775.34,1191.3) scale(1,1.04)" font-size="36.5" text-anchor="middle" fill="#000">400</text>
<text transform="translate(858.06,1191.3) scale(1,1.04)" font-size="36.5" text-anchor="middle" fill="#000"> 200</text><path d="M763 0L583 0L583 1147C540 1106 483 1064 413 1023C343 982 280 951 221 930L221 1104C321 1151 409 1208 483 1274C557 1340 610 1404 641 1466L763 1466Z" fill="#000" stroke="#000" stroke-width="0.2" vector-effect="non-scaling-stroke" transform="translate(817.46,1191.3) scale(0.01782,-0.01782)"/>
<rect x="920" y="654.4" width="182" height="495" fill="#fff"/>
<line x1="922" x2="1100" y1="1082.4" y2="1082.4" stroke="#F1F1F1" stroke-width="1.8"/>
<line x1="922" x2="1100" y1="992.4" y2="992.4" stroke="#F1F1F1" stroke-width="1.8"/>
<line x1="922" x2="1100" y1="902.4" y2="902.4" stroke="#F1F1F1" stroke-width="1.8"/>
<line x1="922" x2="1100" y1="812.4" y2="812.4" stroke="#F1F1F1" stroke-width="1.8"/>
<line x1="922" x2="1100" y1="722.4" y2="722.4" stroke="#F1F1F1" stroke-width="1.8"/>
<line x1="922" x2="1100" y1="1127.4" y2="1127.4" stroke="#EBEBEB" stroke-width="2.2"/>
<line x1="922" x2="1100" y1="1037.4" y2="1037.4" stroke="#EBEBEB" stroke-width="2.2"/>
<line x1="922" x2="1100" y1="947.4" y2="947.4" stroke="#EBEBEB" stroke-width="2.2"/>
<line x1="922" x2="1100" y1="857.4" y2="857.4" stroke="#EBEBEB" stroke-width="2.2"/>
<line x1="922" x2="1100" y1="767.4" y2="767.4" stroke="#EBEBEB" stroke-width="2.2"/>
<line x1="922" x2="1100" y1="677.4" y2="677.4" stroke="#EBEBEB" stroke-width="2.2"/>
<line x1="969.64" x2="969.64" y1="656.4" y2="1147.4" stroke="#EBEBEB" stroke-width="2.2"/>
<line x1="1052.36" x2="1052.36" y1="656.4" y2="1147.4" stroke="#EBEBEB" stroke-width="2.2"/>
<line x1="953.92" x2="953.92" y1="994.5" y2="999" stroke="#1f1f1f" stroke-width="1.9"/>
<line x1="953.92" x2="953.92" y1="1007.2" y2="1009.9" stroke="#1f1f1f" stroke-width="1.9"/>
<rect x="939.85" y="999" width="28.13" height="8.2" fill="#26C8A3" stroke="#1f1f1f" stroke-width="1.9"/>
<line x1="939.85" x2="967.98" y1="1003.8" y2="1003.8" stroke="#1f1f1f" stroke-width="3.5"/>
<line x1="985.35" x2="985.35" y1="927.7" y2="933.4" stroke="#1f1f1f" stroke-width="1.9"/>
<line x1="985.35" x2="985.35" y1="945.5" y2="951.2" stroke="#1f1f1f" stroke-width="1.9"/>
<rect x="971.29" y="933.4" width="28.13" height="12.1" fill="#6EDD16" stroke="#1f1f1f" stroke-width="1.9"/>
<line x1="971.29" x2="999.42" y1="939.5" y2="939.5" stroke="#1f1f1f" stroke-width="3.5"/>
<line x1="1036.65" x2="1036.65" y1="992.5" y2="997.5" stroke="#1f1f1f" stroke-width="1.9"/>
<line x1="1036.65" x2="1036.65" y1="1007.5" y2="1012.3" stroke="#1f1f1f" stroke-width="1.9"/>
<rect x="1022.58" y="997.5" width="28.13" height="10" fill="#26C8A3" stroke="#1f1f1f" stroke-width="1.9"/>
<line x1="1022.58" x2="1050.71" y1="1002.6" y2="1002.6" stroke="#1f1f1f" stroke-width="3.5"/>
<line x1="1068.08" x2="1068.08" y1="961.7" y2="983.8" stroke="#1f1f1f" stroke-width="1.9"/>
<line x1="1068.08" x2="1068.08" y1="1017.2" y2="1028.1" stroke="#1f1f1f" stroke-width="1.9"/>
<rect x="1054.02" y="983.8" width="28.13" height="33.4" fill="#6EDD16" stroke="#1f1f1f" stroke-width="1.9"/>
<line x1="1054.02" x2="1082.15" y1="1006" y2="1006" stroke="#1f1f1f" stroke-width="3.5"/>
<rect x="920" y="654.4" width="182" height="495" fill="none" stroke="#464646" stroke-width="1.75"/>
<rect x="920" y="609.9" width="182" height="44.5" fill="#D9D9D9" stroke="#464646" stroke-width="1.75"/>
<rect x="921.9" y="611.8" width="178.2" height="40.7" fill="none" stroke="#ECECEC" stroke-width="1"/>
<line x1="919.4" x2="1102.6" y1="654.4" y2="654.4" stroke="#1e1e1e" stroke-width="2"/>
<text transform="translate(1011,643) scale(1,1.04)" font-size="29.2" text-anchor="middle" fill="#1a1a1a"> 6 °C</text><path d="M763 0L583 0L583 1147C540 1106 483 1064 413 1023C343 982 280 951 221 930L221 1104C321 1151 409 1208 483 1274C557 1340 610 1404 641 1466L763 1466Z" fill="#1a1a1a" stroke="#1a1a1a" stroke-width="0.2" vector-effect="non-scaling-stroke" transform="translate(974.32,643) scale(0.01426,-0.01426)"/>
<line x1="969.64" x2="969.64" y1="1149.4" y2="1155" stroke="#2a2a2a" stroke-width="1.9"/>
<line x1="1052.36" x2="1052.36" y1="1149.4" y2="1155" stroke="#2a2a2a" stroke-width="1.9"/>
<text transform="translate(969.64,1191.3) scale(1,1.04)" font-size="36.5" text-anchor="middle" fill="#000">400</text>
<text transform="translate(1052.36,1191.3) scale(1,1.04)" font-size="36.5" text-anchor="middle" fill="#000"> 200</text><path d="M763 0L583 0L583 1147C540 1106 483 1064 413 1023C343 982 280 951 221 930L221 1104C321 1151 409 1208 483 1274C557 1340 610 1404 641 1466L763 1466Z" fill="#000" stroke="#000" stroke-width="0.2" vector-effect="non-scaling-stroke" transform="translate(1011.76,1191.3) scale(0.01782,-0.01782)"/>
<rect x="1113.9" y="654.4" width="182.2" height="495" fill="#fff"/>
<line x1="1115.9" x2="1294.1" y1="1082.4" y2="1082.4" stroke="#F1F1F1" stroke-width="1.8"/>
<line x1="1115.9" x2="1294.1" y1="992.4" y2="992.4" stroke="#F1F1F1" stroke-width="1.8"/>
<line x1="1115.9" x2="1294.1" y1="902.4" y2="902.4" stroke="#F1F1F1" stroke-width="1.8"/>
<line x1="1115.9" x2="1294.1" y1="812.4" y2="812.4" stroke="#F1F1F1" stroke-width="1.8"/>
<line x1="1115.9" x2="1294.1" y1="722.4" y2="722.4" stroke="#F1F1F1" stroke-width="1.8"/>
<line x1="1115.9" x2="1294.1" y1="1127.4" y2="1127.4" stroke="#EBEBEB" stroke-width="2.2"/>
<line x1="1115.9" x2="1294.1" y1="1037.4" y2="1037.4" stroke="#EBEBEB" stroke-width="2.2"/>
<line x1="1115.9" x2="1294.1" y1="947.4" y2="947.4" stroke="#EBEBEB" stroke-width="2.2"/>
<line x1="1115.9" x2="1294.1" y1="857.4" y2="857.4" stroke="#EBEBEB" stroke-width="2.2"/>
<line x1="1115.9" x2="1294.1" y1="767.4" y2="767.4" stroke="#EBEBEB" stroke-width="2.2"/>
<line x1="1115.9" x2="1294.1" y1="677.4" y2="677.4" stroke="#EBEBEB" stroke-width="2.2"/>
<line x1="1163.59" x2="1163.59" y1="656.4" y2="1147.4" stroke="#EBEBEB" stroke-width="2.2"/>
<line x1="1246.41" x2="1246.41" y1="656.4" y2="1147.4" stroke="#EBEBEB" stroke-width="2.2"/>
<line x1="1147.86" x2="1147.86" y1="938.2" y2="941.5" stroke="#1f1f1f" stroke-width="1.9"/>
<line x1="1147.86" x2="1147.86" y1="950" y2="952.7" stroke="#1f1f1f" stroke-width="1.9"/>
<rect x="1133.78" y="941.5" width="28.16" height="8.5" fill="#26C8A3" stroke="#1f1f1f" stroke-width="1.9"/>
<line x1="1133.78" x2="1161.93" y1="945.2" y2="945.2" stroke="#1f1f1f" stroke-width="3.5"/>
<line x1="1179.33" x2="1179.33" y1="769.7" y2="825.3" stroke="#1f1f1f" stroke-width="1.9"/>
<line x1="1179.33" x2="1179.33" y1="883.4" y2="885" stroke="#1f1f1f" stroke-width="1.9"/>
<rect x="1165.25" y="825.3" width="28.16" height="58.1" fill="#6EDD16" stroke="#1f1f1f" stroke-width="1.9"/>
<line x1="1165.25" x2="1193.41" y1="881.8" y2="881.8" stroke="#1f1f1f" stroke-width="3.5"/>
<line x1="1230.67" x2="1230.67" y1="884.7" y2="920.5" stroke="#1f1f1f" stroke-width="1.9"/>
<line x1="1230.67" x2="1230.67" y1="1006.5" y2="1056" stroke="#1f1f1f" stroke-width="1.9"/>
<rect x="1216.59" y="920.5" width="28.16" height="86" fill="#26C8A3" stroke="#1f1f1f" stroke-width="1.9"/>
<line x1="1216.59" x2="1244.75" y1="956" y2="956" stroke="#1f1f1f" stroke-width="3.5"/>
<line x1="1262.14" x2="1262.14" y1="824.8" y2="851.9" stroke="#1f1f1f" stroke-width="1.9"/>
<line x1="1262.14" x2="1262.14" y1="910.8" y2="942.3" stroke="#1f1f1f" stroke-width="1.9"/>
<rect x="1248.07" y="851.9" width="28.16" height="58.9" fill="#6EDD16" stroke="#1f1f1f" stroke-width="1.9"/>
<line x1="1248.07" x2="1276.22" y1="879" y2="879" stroke="#1f1f1f" stroke-width="3.5"/>
<rect x="1113.9" y="654.4" width="182.2" height="495" fill="none" stroke="#464646" stroke-width="1.75"/>
<rect x="1113.9" y="609.9" width="182.2" height="44.5" fill="#D9D9D9" stroke="#464646" stroke-width="1.75"/>
<rect x="1115.8" y="611.8" width="178.4" height="40.7" fill="none" stroke="#ECECEC" stroke-width="1"/>
<line x1="1113.3" x2="1296.7" y1="654.4" y2="654.4" stroke="#1e1e1e" stroke-width="2"/>
<text transform="translate(1205,643) scale(1,1.04)" font-size="29.2" text-anchor="middle" fill="#1a1a1a">20 °C</text>
<line x1="1163.59" x2="1163.59" y1="1149.4" y2="1155" stroke="#2a2a2a" stroke-width="1.9"/>
<line x1="1246.41" x2="1246.41" y1="1149.4" y2="1155" stroke="#2a2a2a" stroke-width="1.9"/>
<text transform="translate(1163.59,1191.3) scale(1,1.04)" font-size="36.5" text-anchor="middle" fill="#000">400</text>
<text transform="translate(1246.41,1191.3) scale(1,1.04)" font-size="36.5" text-anchor="middle" fill="#000"> 200</text><path d="M763 0L583 0L583 1147C540 1106 483 1064 413 1023C343 982 280 951 221 930L221 1104C321 1151 409 1208 483 1274C557 1340 610 1404 641 1466L763 1466Z" fill="#000" stroke="#000" stroke-width="0.2" vector-effect="non-scaling-stroke" transform="translate(1205.81,1191.3) scale(0.01782,-0.01782)"/>
<text transform="translate(114,34.5) scale(1,1.04)" font-size="43.8" fill="#000">Exp. I</text>
<text transform="translate(728.6,34.5) scale(1,1.04)" font-size="43.8" fill="#000">Exp. II</text>
<g transform="translate(397,1227)"><text transform="scale(1,1.04)" fill="#000"><tspan x="-94.98" y="0" font-size="36.5">pCO</tspan><tspan x="-19.93" y="7" font-size="25.55">2</tspan><tspan x="34.13" y="0" font-size="36.5">atm</tspan></text><g transform="translate(6.52,0) scale(1.0000)" fill="none" stroke="#000"><path d="M2.1 -16.7L2.1 -2.6" stroke-width="2.45"/><path d="M2.1 -3.6C2.3 -0.6 4.4 0.45 6.8 0.3C9.4 0.15 11.6 -1.2 12.9 -3.9" stroke-width="2.3"/><path d="M12.9 -16.7L12.9 -2.3C13 -0.6 14 0.15 15.2 -0.35C16.3 -0.8 17.2 -2 18 -3.4" stroke-width="2.45"/><path d="M2.35 -1.2C2.25 1.4 1.7 3.6 1.25 5.6" stroke-width="1.9"/><circle cx="1.2" cy="6.0" r="1.65" fill="#000" stroke="none"/></g></g>
<g transform="translate(1011,1227)"><text transform="scale(1,1.04)" fill="#000"><tspan x="-94.98" y="0" font-size="36.5">pCO</tspan><tspan x="-19.93" y="7" font-size="25.55">2</tspan><tspan x="34.13" y="0" font-size="36.5">atm</tspan></text><g transform="translate(6.52,0) scale(1.0000)" fill="none" stroke="#000"><path d="M2.1 -16.7L2.1 -2.6" stroke-width="2.45"/><path d="M2.1 -3.6C2.3 -0.6 4.4 0.45 6.8 0.3C9.4 0.15 11.6 -1.2 12.9 -3.9" stroke-width="2.3"/><path d="M12.9 -16.7L12.9 -2.3C13 -0.6 14 0.15 15.2 -0.35C16.3 -0.8 17.2 -2 18 -3.4" stroke-width="2.45"/><path d="M2.35 -1.2C2.25 1.4 1.7 3.6 1.25 5.6" stroke-width="1.9"/><circle cx="1.2" cy="6.0" r="1.65" fill="#000" stroke="none"/></g></g>
<g transform="translate(40.7,345.8) rotate(-90)"><text transform="scale(1,1.04)" fill="#000"><tspan x="-208.89" y="0" font-size="36.5">NR</tspan><tspan x="-101.5" y="0" font-size="36.5">mol</tspan><tspan x="-32.55" y="0" font-size="36.5">NO</tspan><tspan x="22.2" y="7" font-size="25.55">3</tspan><tspan x="46.55" y="0" font-size="36.5">g</tspan><tspan x="66.85" y="-17.7" font-size="25.55">− </tspan><tspan x="106.13" y="0" font-size="36.5">min</tspan><tspan x="164.94" y="-17.7" font-size="25.55">− </tspan></text><path d="M-133.13 -31.4Q-158.13 -10.95 -133.13 9.5Q-150.93 -10.95 -133.13 -31.4Z" fill="#000"/><g transform="translate(-129.11,0) scale(1.0000)" fill="none" stroke="#000"><path d="M2.1 -16.7L2.1 -2.6" stroke-width="2.45"/><path d="M2.1 -3.6C2.3 -0.6 4.4 0.45 6.8 0.3C9.4 0.15 11.6 -1.2 12.9 -3.9" stroke-width="2.3"/><path d="M12.9 -16.7L12.9 -2.3C13 -0.6 14 0.15 15.2 -0.35C16.3 -0.8 17.2 -2 18 -3.4" stroke-width="2.45"/><path d="M2.35 -1.2C2.25 1.4 1.7 3.6 1.25 5.6" stroke-width="1.9"/><circle cx="1.2" cy="6.0" r="1.65" fill="#000" stroke="none"/></g><path d="M763 0L583 0L583 1147C540 1106 483 1064 413 1023C343 982 280 951 221 930L221 1104C321 1151 409 1208 483 1274C557 1340 610 1404 641 1466L763 1466Z" fill="#000" stroke="#000" stroke-width="0.2" vector-effect="non-scaling-stroke" transform="translate(81.77,-18.41) scale(0.01248,-0.01248)"/><path d="M763 0L583 0L583 1147C540 1106 483 1064 413 1023C343 982 280 951 221 930L221 1104C321 1151 409 1208 483 1274C557 1340 610 1404 641 1466L763 1466Z" fill="#000" stroke="#000" stroke-width="0.2" vector-effect="non-scaling-stroke" transform="translate(179.86,-18.41) scale(0.01248,-0.01248)"/><path d="M191.97 -31.4Q216.97 -10.95 191.97 9.5Q209.77 -10.95 191.97 -31.4Z" fill="#000"/></g>
<g transform="translate(46.5,1045.35) rotate(-90)"><text transform="scale(1,1.04)" fill="#000"><tspan x="0" y="0" font-size="36.5">CA</tspan><tspan x="74.96" y="0" font-size="36.5">REA</tspan><tspan x="160.15" y="0" font-size="36.5">g</tspan><tspan x="177.95" y="-17.7" font-size="25.55">− </tspan><tspan x="215.53" y="0" font-size="36.5">FW</tspan></text><path d="M73.95 -31.4Q49.15 -10.95 73.95 9.5Q56.35 -10.95 73.95 -31.4Z" fill="#000"/><path d="M763 0L583 0L583 1147C540 1106 483 1064 413 1023C343 982 280 951 221 930L221 1104C321 1151 409 1208 483 1274C557 1340 610 1404 641 1466L763 1466Z" fill="#000" stroke="#000" stroke-width="0.2" vector-effect="non-scaling-stroke" transform="translate(192.87,-18.41) scale(0.01248,-0.01248)"/><path d="M276.07 -31.4Q301.87 -10.95 276.07 9.5Q294.67 -10.95 276.07 -31.4Z" fill="#000"/></g>
<rect x="683.6" y="1112" width="7" height="30" fill="#fff"/>
<!-- legend -->
<text transform="translate(1325,317.1) scale(1,1.04)" font-size="36.5" fill="#000">Population</text>
<text transform="translate(1378.5,366.9) scale(1,1.04)" font-size="29.2" fill="#000">Docas</text>
<text transform="translate(1379,402.1) scale(1,1.04)" font-size="29.2" fill="#000">Tabo</text>
<line x1="1343.4" x2="1343.4" y1="341.2" y2="370.9" stroke="#1f1f1f" stroke-width="1.7"/>
<rect x="1330.3" y="347.3" width="26" height="17.2" fill="#26C8A3" stroke="#1f1f1f" stroke-width="1.6"/>
<line x1="1330.3" x2="1356.3" y1="356" y2="356" stroke="#1f1f1f" stroke-width="2.4"/>
<line x1="1343.4" x2="1343.4" y1="376.6" y2="405.8" stroke="#1f1f1f" stroke-width="1.7"/>
<rect x="1330.3" y="382.4" width="26" height="17.2" fill="#6EDD16" stroke="#1f1f1f" stroke-width="1.6"/>
<line x1="1330.3" x2="1356.3" y1="391" y2="391" stroke="#1f1f1f" stroke-width="2.4"/>
</svg>
</body></html>
